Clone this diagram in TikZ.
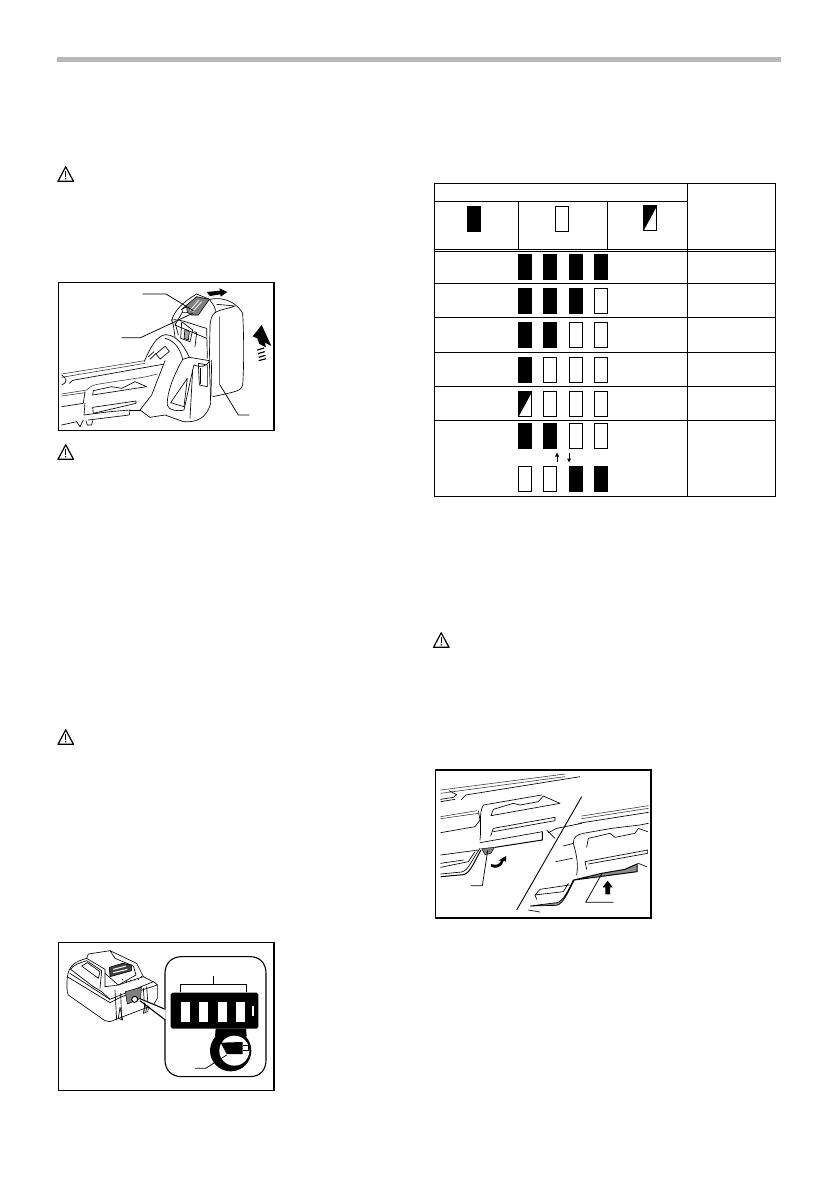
\documentclass[tikz,border=0pt]{standalone}
\tikzset{
 tbl/.style={line width=1pt,black},
 frm/.style={line width=1.1pt,black},
 ln/.style={line width=0.65pt,black,line join=round,line cap=round},
 thn/.style={line width=0.55pt,black!80,line join=round,line cap=round},
 lead/.style={line width=0.75pt,black},
 ledonst/.style={fill=black,draw=black,line width=0.5pt},
 ledoffst/.style={fill=white,draw=black,line width=0.8pt},
 ill/.style={x=0.33333pt,y=-0.33333pt},
}
\newcommand{\ledon}[2]{\path[ledonst] (#1+0.3,#2+0.3) rectangle (#1+13.7,#2+25.7);}
\newcommand{\ledoff}[2]{\path[ledoffst] (#1+0.5,#2+0.5) rectangle (#1+13.5,#2+25.5);}
\newcommand{\ledhalf}[2]{\path[ledoffst] (#1+0.5,#2+0.5) rectangle (#1+13.5,#2+25.5);\fill[black] (#1,#2) -- (#1+14,#2) -- (#1+14,#2+1) -- (#1+1,#2+25) -- (#1,#2+25) -- cycle;}
\newcommand{\warnsign}[2]{%
 \draw[line width=1.2pt,line join=round] (#1+8.2,#2+0.8) -- (#1+16,#2+15.3) -- (#1+0.5,#2+15.3) -- cycle;
 \draw[line width=1.3pt] (#1+8.2,#2+5) -- (#1+8.2,#2+10.5);
 \fill (#1+8.2,#2+12.8) circle (0.8);}
\begin{document}
\begin{tikzpicture}[x=1pt,y=-1pt]
\useasboundingbox[fill=white] (0,0) rectangle (839,1191);
% top rule
\fill[black!28] (57,57) rectangle (781,62);
% warnings
\warnsign{57.5}{166}
\warnsign{57.5}{444}
\warnsign{57.5}{729}
\warnsign{433}{632}

% ---------- table
\draw[tbl] (434.3,183.3) rectangle (775,496.3);
\draw[tbl] (434.3,201.3) -- (687.3,201.3);
\draw[tbl] (687.3,183.3) -- (687.3,496.3);
\draw[tbl] (518.3,201.3) -- (518.3,249.7);
\draw[tbl] (607.3,201.3) -- (607.3,249.7);
\draw[tbl] (434.3,249.6) -- (775,249.6);
\draw[tbl] (434.3,251.6) -- (775,251.6);
\foreach \yy in {283.3,317,352.3,386.3,420.3} {\draw[tbl] (434.3,\yy) -- (775,\yy);}
\ledon{467}{206}
\ledoff{555}{206}
\ledhalf{643}{205}
\foreach \xx in {518,543,569,594} {\ledon{\xx}{254}}
\foreach \xx in {518,543,569} {\ledon{\xx}{288}}
\ledoff{594}{288}
\foreach \xx in {518,543} {\ledon{\xx}{322}}
\foreach \xx in {569,594} {\ledoff{\xx}{322}}
\ledon{518}{357}
\foreach \xx in {543,569,594} {\ledoff{\xx}{357}}
\ledhalf{518}{391}
\foreach \xx in {543,569,594} {\ledoff{\xx}{391}}
\foreach \xx in {518,543} {\ledon{\xx}{423}}
\foreach \xx in {569,594} {\ledoff{\xx}{423}}
\foreach \xx in {518,543} {\ledoff{\xx}{466}}
\foreach \xx in {569,594} {\ledon{\xx}{466}}
\draw[line width=0.7pt] (557,462) -- (557,455);
\fill (557,452.5) -- (559,456.5) -- (555,456.5) -- cycle;
\draw[line width=0.7pt] (569,453) -- (569,460);
\fill (569,462.5) -- (571,458.5) -- (567,458.5) -- cycle;

% ---------- illustration 1
\begin{scope}[shift={(50,270)},ill]
\draw[frm] (25,38) rectangle (672,482);
% battery
\draw[ln] (480,88) .. controls (530,78) and (565,105) .. (578,130) .. controls (582,200) and (582,290) .. (578,345) .. controls (575,362) and (560,365) .. (488,380);
\draw[ln] (500,103) -- (555,108) .. controls (540,115) and (510,118) .. (495,128) .. controls (485,135) and (480,150) .. (480,175) -- (478,270);
\draw[ln,line width=0.6pt,black!60] (508,140) -- (508,345);
\draw[ln] (485,270) -- (483,378);
% cap
\draw[ln] (365,150) .. controls (375,120) and (400,95) .. (440,72) -- (478,88) .. controls (490,105) and (500,115) .. (495,128);
\draw[ln] (365,150) .. controls (390,145) and (430,165) .. (470,175);
\draw[ln] (365,150) -- (370,165) -- (375,200);
\draw[ln] (398,125) -- (375,165) -- (470,205);
\draw[ln] (470,175) -- (472,265);
\path[fill=black!50,draw=black,line width=0.6pt] (395,118) -- (440,80) -- (478,88) -- (445,135) -- (425,135) -- cycle;
\draw[white,line width=0.7pt] (420,122) -- (447,90) (428,125) -- (455,95);
\draw[ln,fill=white] (395,118) -- (410,110) -- (412,128) -- (398,128) -- cycle;
% latch
\draw[ln] (375,158) -- (385,195) (395,155) -- (392,205) -- (420,215) -- (428,180) -- cycle;
\draw[ln,fill=black!35] (405,178) -- (418,185) -- (415,210) -- (402,205) -- cycle;
\draw[ln] (432,185) -- (440,188) -- (435,230);
% strap hook
\draw[ln] (283,274) .. controls (300,235) and (320,195) .. (348,194) .. controls (385,196) and (405,235) .. (418,262) -- (478,272) -- (482,400) .. controls (470,445) and (440,458) .. (400,455) -- (345,435) -- (300,442) -- (270,420);
\draw[ln] (345,205) .. controls (375,212) and (392,240) .. (398,268);
\draw[ln] (398,268) .. controls (380,300) and (350,360) .. (352,405) .. controls (352,420) and (385,425) .. (402,420) -- (428,300) -- (432,285);
\draw[ln] (398,268) -- (418,262);
\draw[ln] (432,285) .. controls (450,292) and (470,292) .. (478,272);
\draw[ln,fill=white,rotate around={40:(338,248)}] (320,238) rectangle (356,258);
\draw[ln] (445,280) -- (472,285) -- (472,350) -- (448,345) -- cycle;
\draw[ln,line width=0.9pt] (452,295) -- (452,340);
\draw[ln] (428,300) -- (420,445);
\draw[ln] (362,398) -- (412,325) -- (402,410) -- cycle;
\draw[ln] (295,260) -- (312,245) (300,268) -- (318,250);
% tool body
\draw[thn] (35,312) -- (285,272);
\draw[thn] (35,322) -- (285,280);
\draw[ln] (35,345) .. controls (55,335) and (50,325) .. (35,315);
\draw[ln] (58,340) .. controls (62,332) and (70,330) .. (85,328) -- (338,283);
\draw[thn] (35,372) -- (110,360) .. controls (125,345) and (130,345) .. (160,340) -- (290,320) -- (322,312);
\draw[thn] (35,378) -- (105,368);
\draw[ln] (35,410) -- (100,400) -- (105,365);
\draw[ln] (128,375) -- (130,362) -- (185,350) -- (215,355) -- (255,335) -- (290,350) -- (128,375);
\draw[ln] (105,400) -- (102,435) -- (180,425) -- (240,420) -- (238,435) -- (115,450);
\draw[ln] (130,430) -- (128,412) -- (258,393) -- (258,400) -- (130,430);
\draw[ln] (35,465) -- (80,455) -- (90,470);
\draw[ln] (90,470) -- (100,450) (108,452) -- (112,465) -- (125,465) -- (128,452);
\draw[ln] (240,420) -- (270,420);
\draw[ln] (345,272) -- (305,375) -- (270,420);
% arrows
\fill (470,66) -- (510,62) -- (508,55) -- (532,66) -- (512,80) -- (511,73) -- (480,78) -- cycle;
\fill (622,205) -- (608,199) -- (635,165) -- (664,228) -- (645,218) -- (648,232) -- (628,222) -- cycle;
\draw[line width=1.2pt] (622,240) -- (642,234) (624,251) -- (644,245) (626,262) -- (646,256) (626,272) -- (648,266);
% leaders
\draw[lead] (278,72) -- (348,72) -- (430,122);
\draw[lead] (215,203) -- (272,203) -- (428,130);
\draw[lead] (598,435) -- (565,435) -- (510,345);
\end{scope}

% ---------- illustration 2
\begin{scope}[shift={(50,930)},ill]
\draw[frm] (25,38) rectangle (672,482);
% battery body
\draw[ln] (52,140) .. controls (58,105) and (75,95) .. (110,85) -- (115,72) -- (180,62) -- (260,100) -- (280,140) -- (315,158) -- (322,165);
\draw[ln] (52,140) .. controls (50,165) and (50,185) .. (55,195) -- (165,272) -- (180,275) -- (310,225) -- (322,205) -- (322,165) -- (215,200) -- (180,218) -- (52,140);
\draw[ln] (60,130) -- (180,208) -- (310,155);
\draw[ln] (62,118) -- (130,170) -- (155,185) -- (180,208);
\draw[ln] (62,118) .. controls (70,105) and (85,100) .. (110,92) -- (155,122) -- (150,175);
\draw[ln] (110,85) -- (165,118) -- (165,170);
\draw[ln] (95,108) -- (112,98) -- (150,125) -- (145,145) -- cycle;
\draw[ln] (180,62) -- (195,85) -- (250,108) -- (258,135) -- (205,165) -- (165,130);
\draw[ln,fill=black!75] (178,112) -- (218,100) -- (245,105) -- (245,122) -- (180,140) -- cycle;
\draw[white,line width=1pt] (190,118) -- (228,108) (190,128) -- (232,118);
\draw[ln] (165,170) -- (205,165) -- (280,140);
\foreach \pa/\qa in {218/148,230/155,242/152,255/150,265/148,275/140} {\fill (\pa,\qa) circle (2);}
\draw[ln] (195,180) -- (200,270);
\draw[ln] (212,190) -- (215,268);
\draw[ln] (280,175) -- (285,245);
\draw[ln] (290,170) -- (295,240);
\draw[ln] (210,232) -- (205,265) -- (218,270) -- cycle;
\draw[ln] (285,220) -- (280,250) -- (292,245) -- cycle;
\path[fill=black!50,draw=black,line width=0.5pt] (226,185) -- (274,172) -- (272,205) -- (232,222) -- cycle;
\draw[ln,fill=white,line width=1pt] (254,208) circle (9);
% panel
\draw[line width=1.1pt] (345,130) .. controls (345,100) and (365,80) .. (395,80) -- (600,80) .. controls (630,80) and (648,100) .. (648,130) -- (648,390) .. controls (648,420) and (630,440) .. (600,440) -- (395,440) .. controls (365,440) and (345,420) .. (345,390) -- cycle;
\fill[white] (270,206) -- (347,237) -- (347,270) -- cycle;
\draw[line width=1.1pt] (270,206) -- (346,238);
\draw[line width=1.1pt] (270,212) -- (346,270);
% icon
\fill (368,188) -- (620,188) -- (625,193) -- (625,290) -- (620,296) -- (368,296) -- (362,290) -- (362,193) -- cycle;
\fill (542,362) circle (62);
\fill (497,296) -- (588,296) -- (590,320) -- (495,320) -- cycle;
\fill[white] (553,362) circle (45);
% white cells
\fill[white] (392,215) rectangle (420,275);
\fill[white] (447,215) rectangle (475,275);
\fill[white] (503,215) rectangle (531,275);
\fill[white] (558,215) rectangle (586,275);
\fill[white] (605,228) rectangle (612,258);
% small icon
\fill (512,338) -- (578,336) -- (578,372) -- (530,372) -- cycle;
\draw[line width=1pt,fill=white] (578,345) -- (596,345) -- (596,362) -- (578,362);
% bracket and leader
\draw[lead] (392,185) -- (392,162) -- (590,162) -- (590,185);
\draw[lead] (490,162) -- (490,138);
\draw[lead] (435,415) -- (467,415) -- (530,375);
\end{scope}

% ---------- illustration 3
\begin{scope}[shift={(425,760)},ill]
\draw[frm] (31,30) rectangle (678,474);
\draw[line width=0.9pt] (470,110) -- (275,450);
% left part
\draw[thn] (47,90) -- (420,42);
\draw[thn] (47,100) -- (420,50);
\draw[ln] (47,118) -- (85,112) -- (95,104) -- (72,92);
\draw[ln] (47,125) -- (90,118);
\draw[ln] (108,120) -- (122,105) -- (465,50);
\draw[thn] (47,170) -- (155,152);
\draw[thn] (47,176) -- (160,160);
\draw[ln] (47,218) -- (150,200) -- (165,180) -- (160,152);
\draw[ln] (165,240) .. controls (170,200) and (160,160) .. (175,135) -- (350,105);
\draw[ln] (405,130) -- (355,108) -- (340,125) -- (285,135) -- (265,130) -- (205,148) -- (198,167) -- (405,130);
\draw[ln] (197,228) -- (205,205) -- (390,172) -- (390,182) -- (205,215);
\draw[ln] (165,248) -- (352,215);
\draw[line width=1pt] (352,215) -- (352,240) -- (210,262);
\draw[ln] (47,285) -- (160,270);
\draw[ln] (47,322) -- (130,305) -- (150,275);
\draw[ln] (47,310) -- (115,300);
\path[fill=black!50,draw=black,line width=0.5pt] (170,266) -- (208,262) -- (198,280) -- (180,284) -- cycle;
\draw[ln] (47,342) -- (110,336) .. controls (130,332) and (140,300) .. (165,265);
\draw[line width=1pt] (47,350) -- (115,344) .. controls (135,340) and (145,310) .. (168,270);
\draw[ln] (365,210) -- (390,235) (370,218) -- (395,205) -- (470,190);
% curved arrow
\fill (198,312) .. controls (215,318) and (225,312) .. (228,302) -- (220,302) -- (243,288) -- (243,305) -- (236,302) .. controls (232,322) and (212,328) .. (198,320) -- cycle;
\draw[lead] (138,377) -- (172,377) -- (188,272);
% right part
\draw[thn] (470,168) -- (670,137);
\draw[thn] (470,176) -- (670,145);
\draw[ln] (460,190) -- (670,157);
\draw[ln] (455,345) .. controls (462,305) and (450,270) .. (445,250) .. controls (445,230) and (455,225) .. (475,220) -- (560,205) -- (645,195) -- (670,190);
\draw[ln] (445,250) -- (415,258) (442,295) -- (392,305);
\draw[ln] (485,262) -- (490,235) -- (555,220) -- (570,232) -- (630,220) -- (640,205) -- (668,215);
\draw[ln] (485,328) -- (480,305) -- (668,270) -- (668,280) -- (490,312);
\draw[ln] (433,375) -- (345,388) -- (330,405) -- (415,395) -- (430,370);
\draw[ln] (335,418) -- (330,405);
\path[fill=black!45,draw=black,line width=1pt] (447,360) -- (530,340) -- (600,328) -- (636,312) -- (636,335) -- cycle;
\draw[fill=black!45,line width=0.7pt] (315,438) -- (395,428) .. controls (415,425) and (430,390) .. (445,360) -- (448,360) .. controls (430,395) and (415,432) .. (395,436) -- cycle;
\draw[ln] (310,450) -- (345,456);
\draw[ln] (640,310) -- (665,320);
% up arrow
\fill (548,362) -- (563,382) -- (555,382) -- (555,403) -- (541,403) -- (541,382) -- (533,382) -- cycle;
\draw[lead] (565,427) -- (482,427) -- (530,342);
\end{scope}
\end{tikzpicture}
\end{document}
